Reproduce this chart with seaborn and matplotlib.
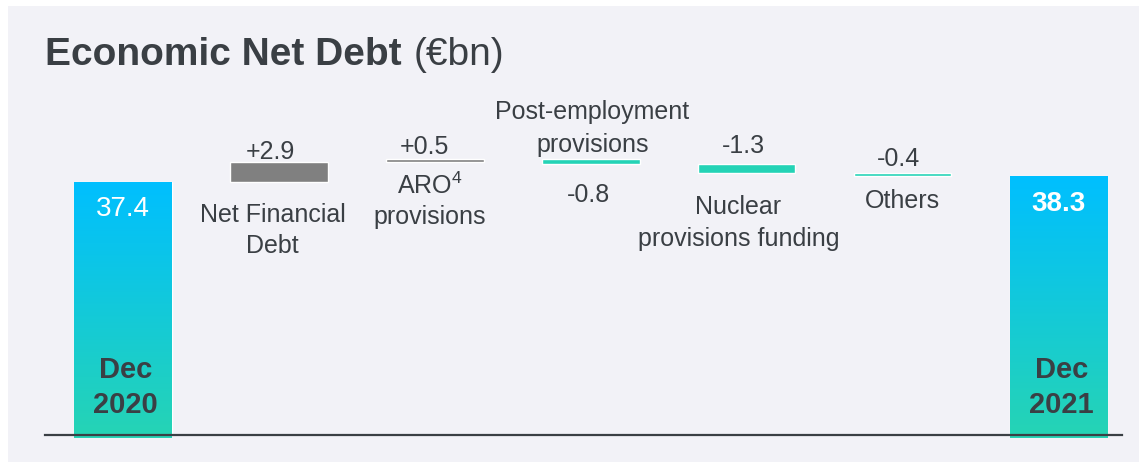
import matplotlib
matplotlib.use("Agg")
import matplotlib.pyplot as plt
import numpy as np
import pandas as pd
import seaborn as sns
from matplotlib.patches import Rectangle
from matplotlib.colors import LinearSegmentedColormap

# data
categories = ["Dec 2020", "Net Financial Debt", "ARO provisions", "Post-employment provisions",
              "Nuclear provisions funding", "Others", "Dec 2021"]
start_value = 37.4
changes = [2.9, 0.5, -0.8, -1.3, -0.4]
end_value = 38.3
value_labels = ["37.4", "+2.9", "+0.5", "-0.8", "-1.3", "-0.4", "38.3"]
axis_labels = [["Dec", "2020"], ["Net Financial", "Debt"], ["ARO$^{4}$", "provisions"],
               ["Post-employment", "provisions"], ["Nuclear", "provisions funding"],
               ["Others"], ["Dec", "2021"]]

BG = "#f2f2f7"
DARK = "#3a3f44"
GREY = "#808080"
TEAL = "#24d3b6"
BLUE = "#00bfff"

# waterfall geometry
bottoms, heights, colors = [0.0], [start_value], [BLUE]
level = start_value
for c in changes:
    bottoms.append(min(level, level + c))
    heights.append(abs(c))
    colors.append(GREY if c > 0 else TEAL)
    level += c
bottoms.append(0.0)
heights.append(end_value)
colors.append(BLUE)
tops = [b + h for b, h in zip(bottoms, heights)]

df = pd.DataFrame({"category": categories, "height": heights})

sns.set_theme(style="white")
plt.rcParams["font.family"] = ["Liberation Sans", "DejaVu Sans"]
plt.rcParams["mathtext.fontset"] = "custom"
plt.rcParams["mathtext.rm"] = "Liberation Sans"

W, H = 1139, 462
fig = plt.figure(figsize=(W / 100, H / 100), dpi=100, facecolor="white")
fig.patches.append(Rectangle((8 / W, 0), 1, (H - 6) / H, transform=fig.transFigure,
                             facecolor=BG, edgecolor="none", zorder=-10))
ax = fig.add_axes([45 / W, (H - 435) / H, 1077 / W, 335 / H])
ax.set_facecolor(BG)

sns.barplot(data=df, x="category", y="height", hue="category", palette=colors,
            width=0.628, legend=False, saturation=1, ax=ax)
for patch, b in zip(ax.patches, bottoms):
    patch.set_y(b)

ymin = start_value - 253 / 6.85
ymax = ymin + 335 / 6.85

# gradient fill on the two totals
cmap = LinearSegmentedColormap.from_list("grad", ["#26d4b4", "#00bfff"])
grad = np.linspace(0, 1, 256).reshape(-1, 1)
for i in (0, len(categories) - 1):
    p = ax.patches[i]
    x0 = p.get_x()
    im = ax.imshow(grad, cmap=cmap, origin="lower", aspect="auto",
                   extent=(x0, x0 + p.get_width(), ymin - 0.4, tops[i]), zorder=1.5)
    im.set_clip_path(p)

ax.set_xlim(-0.497, 6.407)
ax.set_ylim(ymin, ymax)
for s in ["top", "left", "right"]:
    ax.spines[s].set_visible(False)
ax.spines["bottom"].set_color(DARK)
ax.spines["bottom"].set_linewidth(1.6)
ax.spines["bottom"].set_zorder(3)
ax.set_xticks([])
ax.set_yticks([])
ax.set_xlabel("")
ax.set_ylabel("")


def put_lines(lines, i, y, dx, dy, gap, **kw):
    for k, line in enumerate(lines):
        ax.annotate(line, (i, y), xytext=(dx, dy - gap * k), textcoords="offset pixels",
                    ha="center", va="baseline", **kw)


lab = dict(fontsize=18, color=DARK)

# totals
put_lines([value_labels[0]], 0, tops[0], 0, -34, 0, fontsize=20, color="white")
put_lines([value_labels[-1]], 6, tops[-1], 0, -35, 0, fontsize=20, color="white",
          fontweight="bold")
for i in (0, 6):
    put_lines(axis_labels[i], i, ymin, 3, 57, 35, fontsize=21, color=DARK, fontweight="bold")

# changes: (dx, reference edge, dy) for value and category labels
val_pos = {1: (-8, "top", 3), 2: (-10, "top", 5), 3: (-2, "bot", -37.5),
           4: (-3, "top", 11), 5: (-4, "top", 7)}
cat_pos = {1: (-6, "bot", -39.7, 31), 2: (-5, "bot", -32, 30), 3: (2, "top", 39.7, 32.7),
           4: (-8, "bot", -41, 32), 5: (0, "bot", -32.5, 0)}
for i in range(1, 6):
    dx, ref, dy = val_pos[i]
    y = tops[i] if ref == "top" else bottoms[i]
    put_lines([value_labels[i]], i, y, dx, dy, 0, **lab)
    dx, ref, dy, gap = cat_pos[i]
    y = tops[i] if ref == "top" else bottoms[i]
    put_lines(axis_labels[i], i, y, dx, dy, gap, **lab)

# title
t1 = fig.text(45 / W, 1 - 65 / H, "Economic Net Debt", fontsize=28, fontweight="bold",
              color=DARK, va="baseline")
fig.canvas.draw()
bb = t1.get_window_extent()
fig.text((bb.x1 + 12) / W, 1 - 65 / H, "(\u20acbn)", fontsize=28, color=DARK, va="baseline")

fig.savefig("out.png", dpi=100, facecolor="white")
